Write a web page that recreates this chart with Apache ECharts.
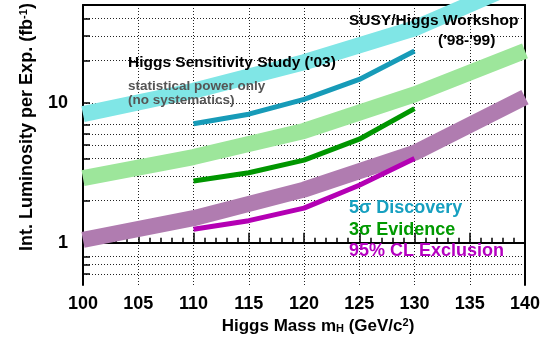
<!DOCTYPE html>
<html>
<head>
<meta charset="utf-8">
<script src="https://cdn.jsdelivr.net/npm/echarts@6/dist/echarts.min.js"></script>
<style>
  html, body { margin: 0; padding: 0; background: #fff; }
  #chart { width: 554px; height: 342px; }
</style>
</head>
<body>
<div id="chart"></div>
<script>
// SUSY/Higgs workshop bands ('98-'99)
const masses = [100, 110, 120, 130, 140];
const susyDiscovery = [8.3, 12.2, 19.5, 34, 75];
const susyEvidence = [2.9, 4.1, 6.3, 11.5, 23.5];
const susyExclusion = [1.05, 1.5, 2.4, 4.4, 11];

// Higgs Sensitivity Study ('03) lines
const studyMasses = [110, 115, 120, 125, 130];
const studyDiscovery = [7.1, 8.3, 10.6, 14.7, 23.5];
const studyEvidence = [2.77, 3.17, 3.9, 5.5, 9.1];
const studyExclusion = [1.25, 1.44, 1.77, 2.58, 4.0];

// axis ticks
const yTicks = [0.6, 0.7, 0.8, 1, 2, 3, 4, 5, 6, 7, 10, 20, 30, 40];
const yLabels = [1, 10];
const yMin = 0.5, yMax = 50;
const xMin = 100, xMax = 140, xStep = 5;

const FONT = '"Liberation Sans", Arial, Helvetica, sans-serif';

function pairs(xs, ys) {
    return xs.map((x, i) => [x, ys[i]]);
}
function band(name, ys, color) {
    return {
        name: name, type: 'line', xAxisIndex: 0, yAxisIndex: 0,
        data: pairs(masses, ys), symbol: 'none', z: 2,
        lineStyle: {color: color, width: 16, join: 'round'}
    };
}
function curve(name, ys, color) {
    return {
        name: name, type: 'line', xAxisIndex: 0, yAxisIndex: 0,
        data: pairs(studyMasses, ys), symbol: 'none', z: 3,
        lineStyle: {color: color, width: 5, join: 'round'}
    };
}

const chart = echarts.init(document.getElementById('chart'));
const dotted = {color: '#222', width: 1, type: [1, 2]};

chart.setOption({
    animation: false,
    textStyle: {fontFamily: FONT},
    grid: {left: 83, right: 29, top: 5, bottom: 57},
    xAxis: [{
        type: 'value', min: xMin, max: xMax, interval: xStep, position: 'bottom',
        axisLine: {lineStyle: {color: '#000', width: 2}},
        axisTick: {inside: true, length: 10, lineStyle: {color: '#000', width: 1.5}},
        minorTick: {show: true, splitNumber: 5, length: 5, lineStyle: {color: '#000', width: 1.5}},
        axisLabel: {color: '#000', fontSize: 18, fontWeight: 'bold', margin: 10, fontFamily: FONT},
        splitLine: {show: true, lineStyle: dotted}
    }, {
        type: 'value', min: xMin, max: xMax, position: 'top',
        axisLine: {show: true, onZero: false, lineStyle: {color: '#000', width: 2}},
        axisTick: {show: false}, axisLabel: {show: false}, splitLine: {show: false}
    }],
    yAxis: [{
        // data axis (log scale), drawn by the companion axes below
        type: 'log', logBase: 10, min: yMin, max: yMax, show: false
    }, {
        type: 'value', min: Math.log10(yMin), max: Math.log10(yMax), position: 'left',
        axisLine: {show: true, onZero: false, lineStyle: {color: '#000', width: 2}},
        axisTick: {show: true, inside: true, length: 7, customValues: yTicks.map(Math.log10),
            lineStyle: {color: '#000', width: 1.5}},
        axisLabel: {customValues: yLabels.map(Math.log10), color: '#000', fontSize: 18,
            fontWeight: 'bold', margin: 15, fontFamily: FONT,
            formatter: v => String(Math.round(Math.pow(10, v)))},
        splitLine: {show: true, lineStyle: dotted}
    }, {
        type: 'value', min: Math.log10(yMin), max: Math.log10(yMax), position: 'right',
        axisLine: {show: true, onZero: false, lineStyle: {color: '#000', width: 2}},
        axisTick: {show: false}, axisLabel: {show: false}, splitLine: {show: false}
    }],
    series: [
        band('SUSY 5 sigma', susyDiscovery, '#80e6e6'),
        band('SUSY 3 sigma', susyEvidence, '#9de69b'),
        band('SUSY 95% CL', susyExclusion, '#b07cb0'),
        curve('5 sigma Discovery', studyDiscovery, '#179bb8'),
        curve('3 sigma Evidence', studyEvidence, '#009600'),
        curve('95% CL Exclusion', studyExclusion, '#b400b4')
    ],
    graphic: [
        {type: 'text', x: 27, y: 127, rotation: Math.PI / 2, z: 10, style: {
            text: 'Int. Luminosity per Exp. (fb{sup|-1})',
            font: 'bold 18px ' + FONT, fill: '#000', align: 'center', verticalAlign: 'middle',
            rich: {sup: {fontSize: 11, fontWeight: 'bold', verticalAlign: 'top', lineHeight: 11}}
        }},
        {type: 'text', x: 318, y: 326, z: 10, style: {
            text: 'Higgs Mass m{sub|H} (GeV/c{sup|2})',
            font: 'bold 17px ' + FONT, fill: '#000', align: 'center', verticalAlign: 'middle',
            rich: {
                sub: {fontSize: 11, fontWeight: 'bold', verticalAlign: 'bottom', lineHeight: 11},
                sup: {fontSize: 11, fontWeight: 'bold', verticalAlign: 'top', lineHeight: 11}
            }
        }},
        {type: 'text', x: 349, y: 21, z: 10, style: {
            text: 'SUSY/Higgs Workshop', font: 'bold 15.5px ' + FONT, fill: '#000', verticalAlign: 'middle'}},
        {type: 'text', x: 438, y: 41, z: 10, style: {
            text: "('98-'99)", font: 'bold 15.5px ' + FONT, fill: '#000', verticalAlign: 'middle'}},
        {type: 'text', x: 128, y: 63, z: 10, style: {
            text: "Higgs Sensitivity Study ('03)", font: 'bold 15.5px ' + FONT, fill: '#000', verticalAlign: 'middle'}},
        {type: 'text', x: 128, y: 86, z: 10, style: {
            text: 'statistical power only', font: 'bold 13.5px ' + FONT, fill: '#555', verticalAlign: 'middle'}},
        {type: 'text', x: 128, y: 100, z: 10, style: {
            text: '(no systematics)', font: 'bold 13.5px ' + FONT, fill: '#555', verticalAlign: 'middle'}},
        {type: 'text', x: 349, y: 208, z: 10, style: {
            text: '5\u03c3 Discovery', font: 'bold 18px ' + FONT, fill: '#17a0c0', verticalAlign: 'middle'}},
        {type: 'text', x: 349, y: 230, z: 10, style: {
            text: '3\u03c3 Evidence', font: 'bold 18px ' + FONT, fill: '#009900', verticalAlign: 'middle'}},
        {type: 'text', x: 349, y: 251, z: 10, style: {
            text: '95% CL Exclusion', font: 'bold 18px ' + FONT, fill: '#b400c0', verticalAlign: 'middle'}}
    ]
});
</script>
</body>
</html>
